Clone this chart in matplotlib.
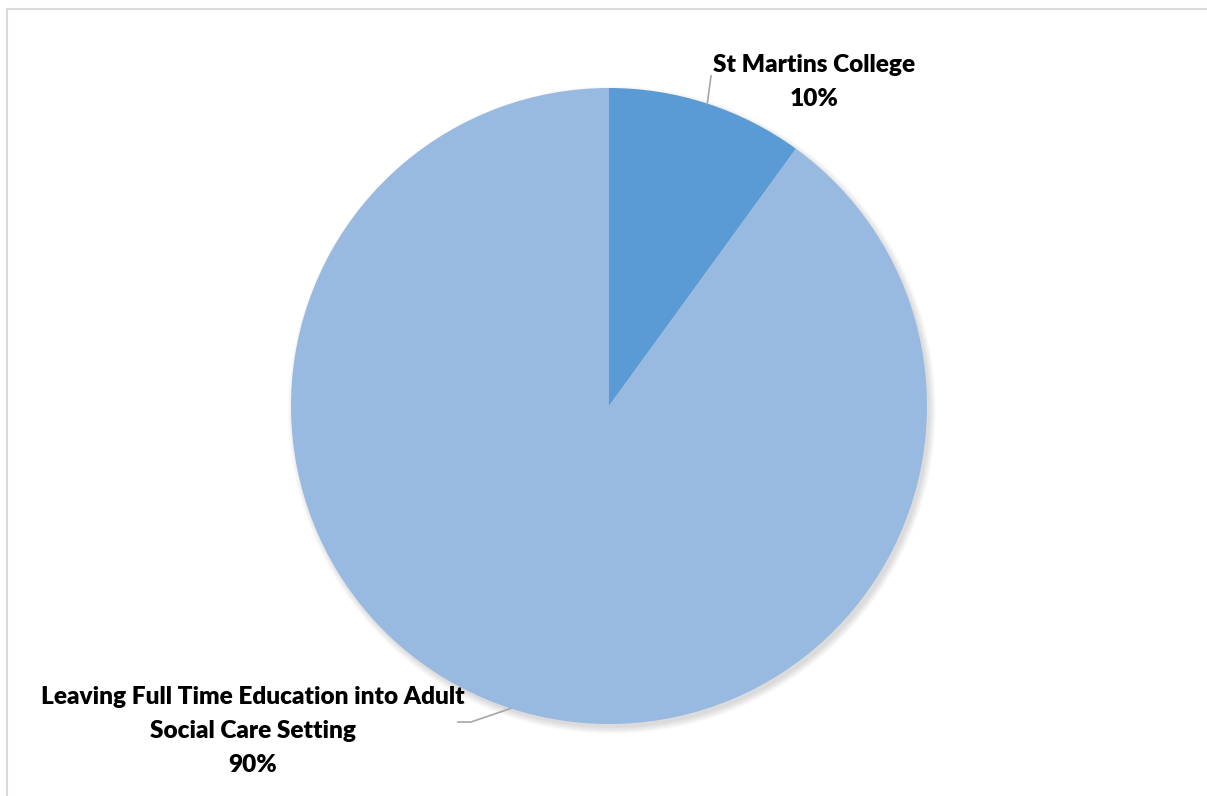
import numpy as np
import matplotlib.pyplot as plt
from matplotlib.patches import Circle

labels = ["St Martins College", "Leaving Full Time Education into Adult\nSocial Care Setting"]
values = [10, 90]
colors = ["#5B9BD5", "#98B9E0"]

W, H = 1207, 796
fig = plt.figure(figsize=(W / 100, H / 100), dpi=100)
ax = fig.add_axes([0, 0, 1, 1])
ax.set_xlim(0, W)
ax.set_ylim(0, H)
ax.axis("off")

cx, cy, r = 609, H - 406, 318

# soft shadow
for i in range(12):
    ax.add_patch(Circle((cx + 3, cy - 4), r + 6 - i * 0.6, color="black",
                        alpha=0.012, lw=0, zorder=1))

wedges, _ = ax.pie(values, colors=colors, startangle=90, counterclock=False,
                   center=(cx, cy), radius=r, frame=False,
                   wedgeprops=dict(linewidth=0, zorder=2))
ax.set_xlim(0, W)
ax.set_ylim(0, H)
ax.set_aspect("equal")

font = dict(family="Lato", weight="heavy", fontsize=17.6, color="black")

# label for slice 1
w = wedges[0]
mid = np.deg2rad((w.theta1 + w.theta2) / 2)
ex, ey = cx + r * np.cos(mid), cy + r * np.sin(mid)
ax.plot([ex, 711], [ey, H - 76], color="#A6A6A6", lw=1.2, zorder=3)
ax.text(814, H - 65, labels[0], ha="center", va="center", **font)
ax.text(814, H - 99, f"{values[0]}%", ha="center", va="center", **font)

# label for slice 2
w = wedges[1]
mid = np.deg2rad((w.theta1 + w.theta2) / 2)
ex, ey = cx + r * np.cos(mid), cy + r * np.sin(mid)
ax.plot([ex, 471, 458], [ey, H - 722, H - 722], color="#A6A6A6", lw=1.2, zorder=3)
lines = labels[1].split("\n") + [f"{values[1]}%"]
for k, line in enumerate(lines):
    ax.text(253, H - 697 - 34 * k, line, ha="center", va="center", **font)

# chart frame (top and left visible)
ax.plot([7, W], [H - 8.5, H - 8.5], color="#D9D9D9", lw=1.5, clip_on=False)
ax.plot([7, 7], [H - 8.5, 0], color="#D9D9D9", lw=1.5, clip_on=False)

fig.savefig("out.png", dpi=100)
